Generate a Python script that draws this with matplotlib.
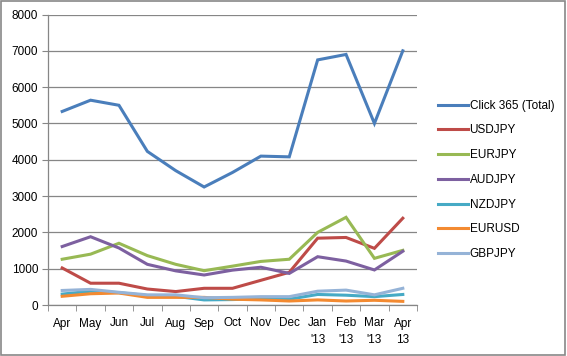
import matplotlib
matplotlib.use("Agg")
import matplotlib.pyplot as plt
from matplotlib.patches import Rectangle

months = ["Apr", "May", "Jun", "Jul", "Aug", "Sep", "Oct", "Nov", "Dec",
          "Jan\n'13", "Feb\n'13", "Mar\n'13", "Apr\n13"]
total  = [5330, 5640, 5500, 4230, 3700, 3250, 3650, 4100, 4080, 6750, 6900, 5000, 7000]
usdjpy = [1020, 600, 600, 440, 370, 460, 460, 680, 900, 1840, 1860, 1560, 2390]
eurjpy = [1260, 1400, 1700, 1360, 1120, 945, 1070, 1200, 1260, 2000, 2415, 1285, 1505]
audjpy = [1610, 1880, 1570, 1120, 940, 826, 960, 1040, 870, 1330, 1210, 965, 1480]
nzdjpy = [300, 380, 340, 260, 240, 140, 150, 170, 160, 290, 270, 230, 290]
eurusd = [240, 310, 330, 210, 210, 210, 160, 140, 110, 140, 110, 130, 100]
gbpjpy = [400, 430, 350, 280, 280, 200, 210, 230, 230, 380, 410, 280, 460]

series = [
    ("Click 365 (Total)", total, "#4A7EBB"),
    ("USDJPY", usdjpy, "#BE4B48"),
    ("EURJPY", eurjpy, "#98B954"),
    ("AUDJPY", audjpy, "#7D60A0"),
    ("NZDJPY", nzdjpy, "#46AAC5"),
    ("EURUSD", eurusd, "#F38A31"),
    ("GBPJPY", gbpjpy, "#95B3D7"),
]

plt.rcParams['font.family'] = ['Liberation Sans', 'DejaVu Sans']

fig = plt.figure(figsize=(5.67, 3.56), dpi=100)
fig.patches.append(Rectangle((0.002, 0.003), 0.995, 0.993, transform=fig.transFigure,
                             fill=False, edgecolor="#888888", linewidth=1.2))
ax = fig.add_axes([48/567, 51/356, 369/567, 290.5/356])

x = list(range(len(months)))
handles = []
for name, vals, col in series:
    h, = ax.plot(x, vals, color=col, linewidth=2.2, label=name, solid_joinstyle='miter')
    handles.append(h)

ax.set_xlim(-0.5, 12.5)
ax.set_ylim(0, 8000)
ax.set_yticks(range(0, 8001, 1000))
ax.yaxis.grid(True, color="#868686", linewidth=0.9)
ax.set_axisbelow(True)
ax.set_xticks(x)
ax.set_xticklabels(months, fontsize=8.5)
ax.set_xticks([i - 0.5 for i in range(14)], minor=True)
ax.tick_params(axis='x', which='major', length=0, pad=9)
ax.tick_params(axis='x', which='minor', length=4, color="#868686")
ax.tick_params(axis='y', length=4, color="#868686", labelsize=8.5, pad=3)
for lab in ax.get_xticklabels():
    lab.set_linespacing(1.55)
for s in ["top", "right"]:
    ax.spines[s].set_visible(False)
for s in ["left", "bottom"]:
    ax.spines[s].set_color("#868686")
    ax.spines[s].set_linewidth(0.9)

fig.legend(handles=handles, loc="upper left", bbox_to_anchor=(433/567, 1 - 95/356),
           frameon=False, fontsize=8.5, handlelength=2.6, handletextpad=0.1,
           labelspacing=1.08, borderaxespad=0)

fig.savefig("out.png", dpi=100)
